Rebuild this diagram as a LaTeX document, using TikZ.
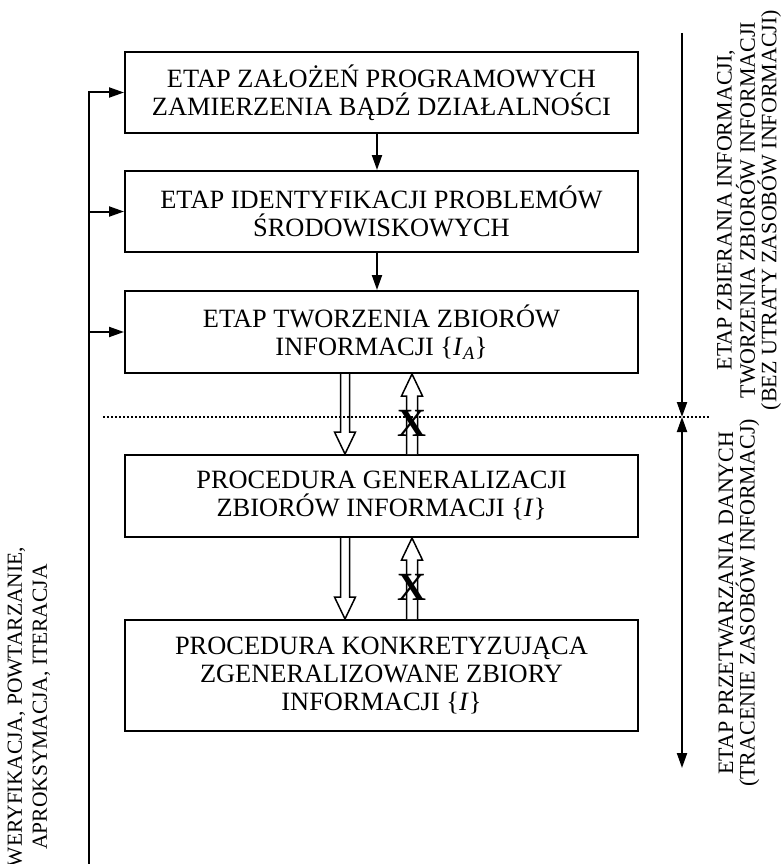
\documentclass[tikz,border=0pt]{standalone}
\usepackage{fontspec}
\setmainfont{Liberation Serif}
\usetikzlibrary{arrows.meta,calc}

% hollow block arrow from #2 to #3 (vertical), shaft half-width #1
\newcommand\hollowarrow[3]{%
  \draw[hollow] let \p1=(#2), \p2=(#3), \n1={sign(\y2-\y1)} in
    (\x1-#1,\y1) -- (\x1-#1,\y2-\n1*22pt) -- (\x1-10.5pt,\y2-\n1*22pt)
    -- (\x2,\y2) -- (\x1+10.5pt,\y2-\n1*22pt) -- (\x1+#1,\y2-\n1*22pt)
    -- (\x1+#1,\y1);}

\begin{document}
\begin{tikzpicture}[x=1pt,y=-1pt,
  stage/.style={draw,line width=2pt,minimum width=513pt,align=center,
    inner sep=0pt,font=\fontsize{26.4}{28}\selectfont},
  arr/.style={line width=2pt,-{Triangle[length=15pt,width=10pt]}},
  biarr/.style={line width=2pt,
    {Triangle[length=15pt,width=10pt]}-{Triangle[length=15pt,width=10pt]}},
  hollow/.style={line width=1.5pt,fill=white,line join=miter},
  side/.style={rotate=90,align=center,inner sep=0pt,
    font=\fontsize{22}{21.5}\selectfont},
  leftside/.style={rotate=90,align=center,inner sep=0pt,
    font=\fontsize{21.5}{25}\selectfont},
  xmark/.style={inner sep=0pt,font=\fontsize{40}{40}\selectfont\bfseries},
  divider/.style={line width=1.5pt,dash pattern=on 1.5pt off 2.5pt}]

\useasboundingbox (0,0) rectangle (781,864);
\clip (0,0) rectangle (781,864);

% stages
\node[stage,minimum height=81pt] (b1) at (381.5,92.5)
  {ETAP ZAŁOŻEŃ PROGRAMOWYCH\\ZAMIERZENIA BĄDŹ DZIAŁALNOŚCI};
\node[stage,minimum height=81pt] (b2) at (381.5,211.5)
  {ETAP IDENTYFIKACJI PROBLEMÓW\\ŚRODOWISKOWYCH};
\node[stage,minimum height=82pt] (b3) at (381.5,332)
  {ETAP TWORZENIA ZBIORÓW\\INFORMACJI \{\textit{I}\textsubscript{\textit{A}}\}};
\node[stage,minimum height=82pt] (b4) at (381.5,496)
  {PROCEDURA GENERALIZACJI\\ZBIORÓW INFORMACJI \{\textit{I}\}};
\node[stage,minimum height=111pt] (b5) at (381.5,675.5)
  {PROCEDURA KONKRETYZUJĄCA\\ZGENERALIZOWANE ZBIORY\\INFORMACJI \{\textit{I}\}};

% helper columns and ends
\coordinate (mcol) at (377,0);
\coordinate (dcol) at (345,0);
\coordinate (ucol) at (412,0);
\coordinate (fb) at (89,864);
\coordinate (dl) at (103,417);
\coordinate (dr) at (710,417);
\coordinate (ptop) at (682,33);
\coordinate (pmid) at (682,417);
\coordinate (pbot) at (682,768);

% sequential flow
\draw[arr] (b1.south -| mcol) -- (b2.north -| mcol);
\draw[arr] (b2.south -| mcol) -- (b3.north -| mcol);

% feedback loop
\draw[arr] (fb) |- (b1.west);
\draw[arr] (b2.west -| fb) -- (b2.west);
\draw[arr] (b3.west -| fb) -- (b3.west);

% block arrows between stages
\hollowarrow{4.5pt}{b3.south -| dcol}{b4.north -| dcol}
\hollowarrow{5.5pt}{b4.north -| ucol}{b3.south -| ucol}
\hollowarrow{4.5pt}{b4.south -| dcol}{b5.north -| dcol}
\hollowarrow{5.5pt}{b5.north -| ucol}{b4.south -| ucol}

% divider between phases
\draw[divider] (dl) -- (dr);

\node[xmark] (x1) at (412,423) {X};
\node[xmark] (x2) at (412,587) {X};

% phase markers
\draw[arr] (ptop) -- (pmid);
\draw[biarr] (pmid) -- (pbot);

\node[side] (ph1) at (749,210)
  {ETAP ZBIERANIA INFORMACJI,\\TWORZENIA ZBIORÓW INFORMACJI\\(BEZ UTRATY ZASOBÓW INFORMACJI)};
\node[side] (ph2) at (739,603)
  {ETAP PRZETWARZANIA DANYCH\\(TRACENIE ZASOBÓW INFORMACJ)};
\node[leftside] (loop) at (29,707)
  {WERYFIKACJA, POWTARZANIE,\\APROKSYMACJA, ITERACJA};
\end{tikzpicture}
\end{document}
